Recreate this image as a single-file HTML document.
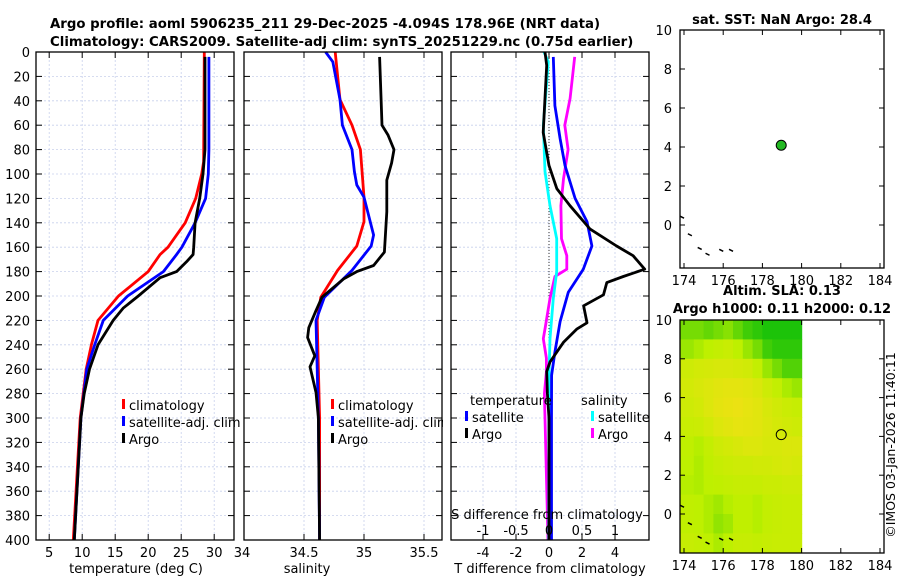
<!DOCTYPE html>
<html><head><meta charset="utf-8">
<style>
html,body{margin:0;padding:0;background:#fff;}
svg{display:block;font-family:"DejaVu Sans","Liberation Sans",sans-serif;}
</style></head>
<body>
<svg id="fig" width="900" height="580" viewBox="0 0 900 580" xmlns="http://www.w3.org/2000/svg">
<text x="50" y="28" font-size="13.3" font-weight="bold">Argo profile: aoml 5906235_211 29-Dec-2025 -4.094S 178.96E (NRT data)</text>
<text x="50" y="46" font-size="13.3" font-weight="bold">Climatology: CARS2009. Satellite-adj clim: synTS_20251229.nc (0.75d earlier)</text>
<text x="782" y="24" font-size="13" font-weight="bold" text-anchor="middle">sat. SST: NaN Argo: 28.4</text>
<text x="782" y="295" font-size="13" font-weight="bold" text-anchor="middle">Altim. SLA: 0.13</text>
<text x="782" y="313" font-size="13" font-weight="bold" text-anchor="middle">Argo h1000: 0.11 h2000: 0.12</text>
<text transform="translate(895,445) rotate(-90)" font-size="12.5" text-anchor="middle">©IMOS 03-Jan-2026 11:40:11</text>
<g id="plots"></g>
</svg>
<script>
// ---- data ----
const tClimDepth=[0,90,100,120,140,160,166,180,200,220,240,260,300,400];
const tClimVal=[28.5,28.4,28.1,27.2,25.6,23.0,21.8,20.0,15.5,12.4,11.4,10.6,9.7,8.65];
const tSatDepth=[4,80,100,120,140,160,166,180,200,220,240,260,300,400];
const tSatVal=[29.2,29.2,29.1,28.7,27.1,25.1,24.3,22.3,16.9,13.2,11.9,10.7,9.8,8.8];
const tArgoDepth=[4,80,100,120,140,160,166,172,180,185,200,210,220,240,260,280,300,400];
const tArgoVal=[28.6,28.6,28.3,27.8,27.1,26.9,26.8,25.8,24.3,21.8,18.5,16.2,14.7,12.4,11.1,10.3,9.8,8.8];
const sClimDepth=[0,39,60,80,119,139,159,179,201,220,260,300,400];
const sClimVal=[34.76,34.80,34.90,34.97,35.00,35.00,34.94,34.78,34.64,34.61,34.62,34.63,34.63];
const sSatDepth=[0,8,39,60,80,98,109,119,150,159,179,201,220,260,300,400];
const sSatVal=[34.68,34.74,34.80,34.82,34.90,34.92,34.94,35.00,35.08,35.06,34.90,34.67,34.60,34.61,34.62,34.63];
const sArgoDepth=[4,60,68,80,91,105,131,164,175,180,186,201,212,226,234,249,258,279,300,400];
const sArgoVal=[35.13,35.15,35.20,35.25,35.23,35.19,35.19,35.17,35.08,34.94,34.83,34.65,34.60,34.54,34.53,34.59,34.55,34.60,34.62,34.63];
const dTArgoDepth=[0,11,66,93,112,126,145,159,167,178,184,189,199,208,222,227,238,254,262,280,300,400];
const dTArgoVal=[-0.24,-0.14,-0.35,0,0.47,1.27,2.48,4.1,5.1,5.8,4.5,3.5,3.3,2.1,2.3,1.7,0.87,0.06,-0.14,-0.1,0,0];
const dTSatDepth=[4,44,71,93,120,139,159,178,197,221,246,265,300,400];
const dTSatVal=[0.26,0.36,0.67,0.97,1.58,2.3,2.6,2.08,1.17,0.67,0.36,0.16,0.15,0.15];
const dSSatDepth=[0,8,60,98,126,153,180,202,235,265,300,400];
const dSSatVal=[-0.076,-0.01,-0.086,-0.06,0.015,0.117,0.117,0.065,0.015,0,0,-0.005];
const dSArgoDepth=[4,38,60,80,104,126,153,167,178,184,202,227,235,251,262,280,300,400];
const dSArgoVal=[0.39,0.32,0.24,0.29,0.22,0.18,0.19,0.27,0.27,0.09,0.015,-0.06,-0.086,-0.04,-0.04,-0.07,-0.06,-0.015];
const depthTicks=[0,20,40,60,80,100,120,140,160,180,200,220,240,260,280,300,320,340,360,380,400];
const tTicks=[5,10,15,20,25,30];
const sTicks=[34,34.5,35,35.5];
const dTTicks=[-4,-2,0,2,4];
const dSTicks=[-1,-0.5,0,0.5,1];
const lonTicks=[174,176,178,180,182,184];
const latTicks=[0,2,4,6,8,10];
const argoLon=[178.96];
const argoLat=[4.09];
const coastLon=[173.9,174.3,174.8,175.2,175.9,176.4];
const coastLat=[0.4,-0.5,-1.2,-1.5,-1.3,-1.3];
const slaGrid=[
[0.3,0.3,0.25,0.3,0.35,0.25,0.15,0.1,0.05,0.05,0.05,0.05],
[0.4,0.45,0.5,0.55,0.6,0.5,0.4,0.3,0.15,0.1,0.1,0.1],
[0.65,0.7,0.72,0.75,0.75,0.72,0.68,0.55,0.4,0.3,0.2,0.2],
[0.7,0.75,0.8,0.85,0.88,0.88,0.85,0.78,0.65,0.55,0.45,0.4],
[0.65,0.7,0.8,0.88,0.92,0.95,0.9,0.85,0.75,0.68,0.62,0.58],
[0.6,0.62,0.7,0.8,0.85,0.9,0.88,0.85,0.78,0.72,0.68,0.65],
[0.52,0.48,0.55,0.65,0.7,0.75,0.8,0.8,0.75,0.75,0.78,0.78],
[0.5,0.46,0.52,0.58,0.62,0.65,0.65,0.68,0.68,0.72,0.75,0.72],
[0.48,0.46,0.5,0.52,0.55,0.58,0.58,0.58,0.62,0.62,0.65,0.65],
[0.52,0.5,0.46,0.42,0.48,0.52,0.52,0.48,0.55,0.58,0.6,0.6],
[0.52,0.5,0.46,0.38,0.42,0.52,0.52,0.48,0.55,0.58,0.6,0.6],
[0.58,0.55,0.5,0.45,0.5,0.58,0.58,0.55,0.58,0.6,0.6,0.6]];

// ---- scales ----
const yD=d=>52+d*1.22;
const xT=t=>36+(t-3)*6.6;
const xS=s=>244+(s-34)*120;
const xDT=v=>549+v*16.5;
const xDS=v=>549+v*66;
const xLon=l=>684+(l-174)*19.6;
const yLatA=l=>30+(10-l)*19.5;
const yLatB=l=>320+(10-l)*19.4;

const NS="http://www.w3.org/2000/svg";
const root=document.getElementById('plots');
function mk(tag,attrs,parent){const e=document.createElementNS(NS,tag);for(const k in attrs)e.setAttribute(k,attrs[k]);(parent||root).appendChild(e);return e;}

function panelFrame(x0,x1,y0,y1,name){
  const r=mk('rect',{x:x0,y:y0,width:x1-x0,height:y1-y0,fill:'none',stroke:'#000','stroke-width':1.3});
  
  
}
function grid(x0,x1,xs,fx){
  for(const d of depthTicks){const y=yD(d);
    if(d>0&&d<400){const l=mk('line',{x1:x0,x2:x1,y1:y,y2:y,stroke:'#c8d0ec','stroke-width':0.8,'stroke-dasharray':'2,2'});
      }
    mk('line',{x1:x0,x2:x0+6,y1:y,y2:y,stroke:'#000'});mk('line',{x1:x1-6,x2:x1,y1:y,y2:y,stroke:'#000'});
  }
  for(const v of xs){const x=fx(v);
    if(x>x0+1&&x<x1-1){const l=mk('line',{x1:x,x2:x,y1:52,y2:540,stroke:'#c8d0ec','stroke-width':0.8,'stroke-dasharray':'2,2'});
      }
    mk('line',{x1:x,x2:x,y1:540,y2:534,stroke:'#000'});mk('line',{x1:x,x2:x,y1:52,y2:58,stroke:'#000'});
  }
}
function line(ds,vs,fx,color,name,w){
  const pts=ds.map((d,i)=>fx(vs[i]).toFixed(1)+','+yD(d).toFixed(1)).join(' ');
  const p=mk('polyline',{points:pts,fill:'none',stroke:color,'stroke-width':w||2.8,'stroke-linejoin':'round'});
  
  
}
function txt(x,y,s,opts,name){const t=mk('text',Object.assign({x:x,y:y,'font-size':13},opts||{}));t.textContent=s;
  return t;}
function legendEntry(x,y,color,label,name){
  const r=mk('rect',{x:x,y:y-11,width:3,height:10,fill:color});
  
  txt(x+7,y,label,{},name);
}

// Panel 1: temperature
grid(36,234,tTicks,xT);
line(tClimDepth,tClimVal,xT,'#ff0000','temp-climatology-line');
line(tSatDepth,tSatVal,xT,'#0000ff','temp-satellite-line');
line(tArgoDepth,tArgoVal,xT,'#000000','temp-argo-line');
panelFrame(36,234,52,540,'temperature-panel');
depthTicks.forEach(d=>txt(30,yD(d)+5,String(d),{'text-anchor':'end'},'depth-tick-label'));
tTicks.forEach(v=>txt(xT(v),557,String(v),{'text-anchor':'middle'},'temp-tick-label'));
txt(136,573,'temperature (deg C)',{'text-anchor':'middle'},'temp-axis-title');
legendEntry(122,410,'#ff0000','climatology','legend-temp-climatology');
legendEntry(122,427,'#0000ff','satellite-adj. clim','legend-temp-satellite');
legendEntry(122,444,'#000000','Argo','legend-temp-argo');

// Panel 2: salinity
grid(244,442,sTicks,xS);
line(sClimDepth,sClimVal,xS,'#ff0000','sal-climatology-line');
line(sSatDepth,sSatVal,xS,'#0000ff','sal-satellite-line');
line(sArgoDepth,sArgoVal,xS,'#000000','sal-argo-line');
panelFrame(244,442,52,540,'salinity-panel');
sTicks.forEach(v=>txt(xS(v)-(v===34?2:0),557,String(v),{'text-anchor':'middle'},'sal-tick-label'));
txt(307,573,'salinity',{'text-anchor':'middle'},'sal-axis-title');
legendEntry(331,410,'#ff0000','climatology','legend-sal-climatology');
legendEntry(331,427,'#0000ff','satellite-adj. clim','legend-sal-satellite');
legendEntry(331,444,'#000000','Argo','legend-sal-argo');

// Panel 3: differences
mk('rect',{x:443,y:52,width:8,height:488,fill:'#fff'});
grid(451,649,dTTicks,xDT);
const zl=mk('line',{x1:549,x2:549,y1:52,y2:yD(300),stroke:'#333','stroke-width':1,'stroke-dasharray':'1,2'});

line(dSArgoDepth,dSArgoVal,xDS,'#ff00ff','sal-diff-argo-line');
line(dSSatDepth,dSSatVal,xDS,'#00ffff','sal-diff-satellite-line');
line(dTSatDepth,dTSatVal,xDT,'#0000ff','temp-diff-satellite-line');
line(dTArgoDepth,dTArgoVal,xDT,'#000000','temp-diff-argo-line');
panelFrame(451,649,52,540,'difference-panel');
dTTicks.forEach(v=>txt(xDT(v),557,String(v),{'text-anchor':'middle'},'tdiff-tick-label'));
txt(550,573,'T difference from climatology',{'text-anchor':'middle'},'tdiff-axis-title');
dSTicks.forEach(v=>{txt(xDS(v),535,String(v),{'text-anchor':'middle'},'sdiff-tick-label');});
txt(547,519,'S difference from climatology',{'text-anchor':'middle'},'sdiff-axis-title');
txt(470,405,'temperature',{},'legend-temperature-heading');
txt(581,405,'salinity',{},'legend-salinity-heading');
legendEntry(465,422,'#0000ff','satellite','legend-tdiff-satellite');
legendEntry(465,439,'#000000','Argo','legend-tdiff-argo');
legendEntry(591,422,'#00ffff','satellite','legend-sdiff-satellite');
legendEntry(591,439,'#ff00ff','Argo','legend-sdiff-argo');

// Map A: SST
function mapAxes(y0,y1,fy,name){
  for(const l of lonTicks){const x=xLon(l);
    mk('line',{x1:x,x2:x,y1:y1,y2:y1-5,stroke:'#000'});mk('line',{x1:x,x2:x,y1:y0,y2:y0+5,stroke:'#000'});
    txt(x,y1+17,String(l),{'text-anchor':'middle'},name+'-lon-label');}
  for(const l of latTicks){const y=fy(l);
    mk('line',{x1:680,x2:685,y1:y,y2:y,stroke:'#000'});mk('line',{x1:879,x2:884,y1:y,y2:y,stroke:'#000'});
    txt(672,y+5,String(l),{'text-anchor':'end'},name+'-lat-label');}
}
function coast(fy,name){
  coastLon.forEach((l,i)=>{const x=xLon(l),y=fy(coastLat[i]);
    const c=mk('line',{x1:x-2,y1:y-1,x2:x+2,y2:y+1,stroke:'#000','stroke-width':1.5});
    });
}
coast(yLatA,'coastline-sst');
const dotA=mk('circle',{cx:xLon(argoLon[0]),cy:yLatA(argoLat[0]),r:5,fill:'#22b822',stroke:'#000','stroke-width':1});

panelFrame(680,884,30,268,'sst-map');
mapAxes(30,268,yLatA,'sst');

// Map B: SLA heatmap
function slaColor(v){let r,g,b;
  if(v<0.5){const f=v/0.5;r=10+f*180;g=190+f*50;b=10-f*10;}
  else{const f=(v-0.5)/0.5;r=190+f*50;g=240-f*15;b=f*20;}
  return `rgb(${r|0},${g|0},${b|0})`;}
const nR=slaGrid.length,nC=slaGrid[0].length;
const clip=mk('clipPath',{id:'mapclip'});mk('rect',{x:680,y:320,width:204,height:233},clip);
const hg=mk('g',{'clip-path':'url(#mapclip)'});

for(let r=0;r<nR;r++)for(let c=0;c<nC;c++){
  const lon0=174+c*0.5-(c===0?0.3:0), lon1=174+(c+1)*0.5;
  const lat0=10-r, lat1=10-(r+1)-(r===nR-1?0.5:0);
  const cell=mk('rect',{x:xLon(lon0),y:yLatB(lat0),width:xLon(lon1)-xLon(lon0)+0.6,height:yLatB(lat1)-yLatB(lat0)+0.6,fill:slaColor(slaGrid[r][c])},hg);
  
  
}
coast(yLatB,'coastline-sla');
const dotB=mk('circle',{cx:xLon(argoLon[0]),cy:yLatB(argoLat[0]),r:5,fill:'none',stroke:'#000','stroke-width':1});

panelFrame(680,884,320,553,'sla-map');
mapAxes(320,553,yLatB,'sla');
</script>
</body></html>
